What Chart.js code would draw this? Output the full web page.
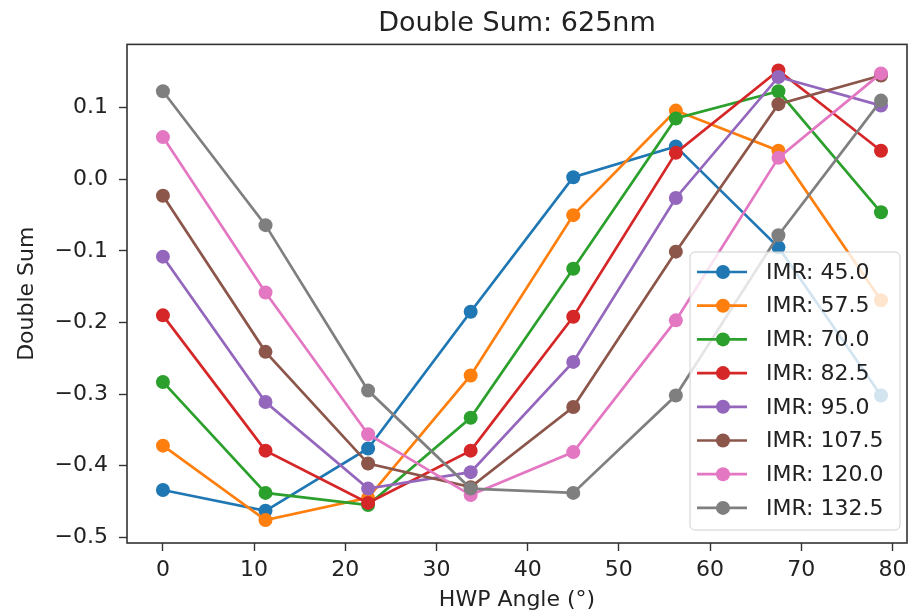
<!DOCTYPE html>
<html>
<head>
<meta charset="utf-8">
<script src="https://cdn.jsdelivr.net/npm/chart.js@4"></script>
<style>
html,body{margin:0;padding:0;background:#fff;}
#wrap{width:914px;height:616px;}
</style>
</head>
<body>
<div id="wrap"><canvas id="doubleSumChart" width="914" height="616"></canvas></div>
<script>
// DOUBLE SUM DATA

const hwpAngles=[0,11.25,22.5,33.75,45,56.25,67.5,78.75];

const imrNames=["IMR: 45.0","IMR: 57.5","IMR: 70.0","IMR: 82.5","IMR: 95.0","IMR: 107.5","IMR: 120.0","IMR: 132.5"];

const imr45=[-0.434,-0.463,-0.376,-0.185,0.003,0.046,-0.095,-0.302];
const imr57=[-0.372,-0.476,-0.445,-0.274,-0.050,0.096,0.040,-0.169];
const imr70=[-0.283,-0.438,-0.455,-0.333,-0.125,0.085,0.123,-0.046];
const imr82=[-0.190,-0.379,-0.452,-0.379,-0.192,0.037,0.152,0.040];
const imr95=[-0.108,-0.311,-0.432,-0.409,-0.255,-0.026,0.143,0.103];
const imr107=[-0.023,-0.241,-0.397,-0.430,-0.318,-0.101,0.105,0.145];
const imr120=[0.059,-0.158,-0.356,-0.441,-0.381,-0.197,0.030,0.148];
const imr132=[0.123,-0.064,-0.295,-0.432,-0.438,-0.302,-0.078,0.110];

const xTicks=[0,10,20,30,40,50,60,70,80];
const yTicks=[-0.5,-0.4,-0.3,-0.2,-0.1,0.0,0.1];

const seriesList=[imr45,imr57,imr70,imr82,imr95,imr107,imr120,imr132];
const colors=["#1f77b4","#ff7f0e","#2ca02c","#d62728","#9467bd","#8c564b","#e377c2","#7f7f7f"];

const FONT="'DejaVu Sans', sans-serif";
const TEXT="#222";

// frame round the plot, like matplotlib spines
const framePlugin={
id:"frame",
afterDatasetsDraw(chart){
const a=chart.chartArea;
const ctx=chart.ctx;
ctx.save();
ctx.strokeStyle="#333";
ctx.lineWidth=1.6;
ctx.strokeRect(a.left,a.top,a.right-a.left,a.bottom-a.top);
ctx.restore();
}
};

// legend inside the plot, lower right
const boxLegend={
id:"boxLegend",
afterDatasetsDraw(chart){
const ctx=chart.ctx;
const a=chart.chartArea;
const boxR=a.right-7,boxB=a.bottom-13,boxW=210,boxH=278;
const boxL=boxR-boxW,boxT=boxB-boxH;
ctx.save();
ctx.beginPath();
ctx.roundRect(boxL,boxT,boxW,boxH,5);
ctx.fillStyle="rgba(255,255,255,0.8)";
ctx.fill();
ctx.strokeStyle="#d0d0d0";
ctx.lineWidth=1;
ctx.stroke();
ctx.font="22px "+FONT;
ctx.textBaseline="middle";
ctx.textAlign="left";
chart.data.datasets.forEach((ds,i)=>{
const y=boxT+20+i*33.7;
ctx.strokeStyle=ds.borderColor;
ctx.lineWidth=2.7;
ctx.beginPath();
ctx.moveTo(boxL+7,y);
ctx.lineTo(boxL+57,y);
ctx.stroke();
ctx.fillStyle=ds.backgroundColor;
ctx.beginPath();
ctx.arc(boxL+33,y,7,0,Math.PI*2);
ctx.fill();
ctx.fillStyle=TEXT;
ctx.fillText(ds.label,boxL+76,y+1);
});
ctx.restore();
}
};

const doubleSumChart=document.getElementById("doubleSumChart");

if(doubleSumChart){

new Chart(doubleSumChart,{

type:"line",

data:{
datasets:seriesList.map((vals,i)=>({
label:imrNames[i],
data:vals.map((v,j)=>({x:hwpAngles[j],y:v})),
borderColor:colors[i],
backgroundColor:colors[i],
borderWidth:2.7,
pointRadius:7,
pointBorderWidth:0,
pointHoverRadius:7,
tension:0,
order:seriesList.length-1-i
}))
},

options:{
responsive:false,
animation:false,
layout:{padding:{left:0,right:4,top:0,bottom:0}},
plugins:{
legend:{display:false},
tooltip:{enabled:false},
title:{
display:true,
fullSize:false,
text:"Double Sum: 625nm",
color:TEXT,
font:{family:FONT,size:27,weight:"normal"},
padding:{top:8,bottom:4}
}
},
scales:{
x:{
type:"linear",
min:-3.94,
max:81.6,
afterBuildTicks(scale){scale.ticks=xTicks.map(v=>({value:v}));},
afterFit(scale){scale.height=73;},
grid:{drawOnChartArea:false,drawTicks:true,tickLength:8,tickColor:"#333",tickWidth:1.4,color:"#333"},
border:{display:false},
ticks:{color:TEXT,font:{family:FONT,size:22},padding:6,maxRotation:0},
title:{display:true,text:"HWP Angle (°)",color:TEXT,font:{family:FONT,size:22},padding:{top:0,bottom:3}}
},
y:{
type:"linear",
min:-0.508,
max:0.1885,
afterBuildTicks(scale){scale.ticks=yTicks.map(v=>({value:v}));},
afterFit(scale){scale.width=127;},
grid:{drawOnChartArea:false,drawTicks:true,tickLength:8,tickColor:"#333",tickWidth:1.4,color:"#333"},
border:{display:false},
ticks:{
color:TEXT,
font:{family:FONT,size:22},
padding:11,
callback:v=>{const r=Math.round(v*10)/10;return (r<0?"\u2212":"")+Math.abs(r).toFixed(1);}
},
title:{display:true,text:"Double Sum",color:TEXT,font:{family:FONT,size:22},padding:{top:14,bottom:0}}
}
}
},

plugins:[framePlugin,boxLegend]

});

}
</script>
</body>
</html>
